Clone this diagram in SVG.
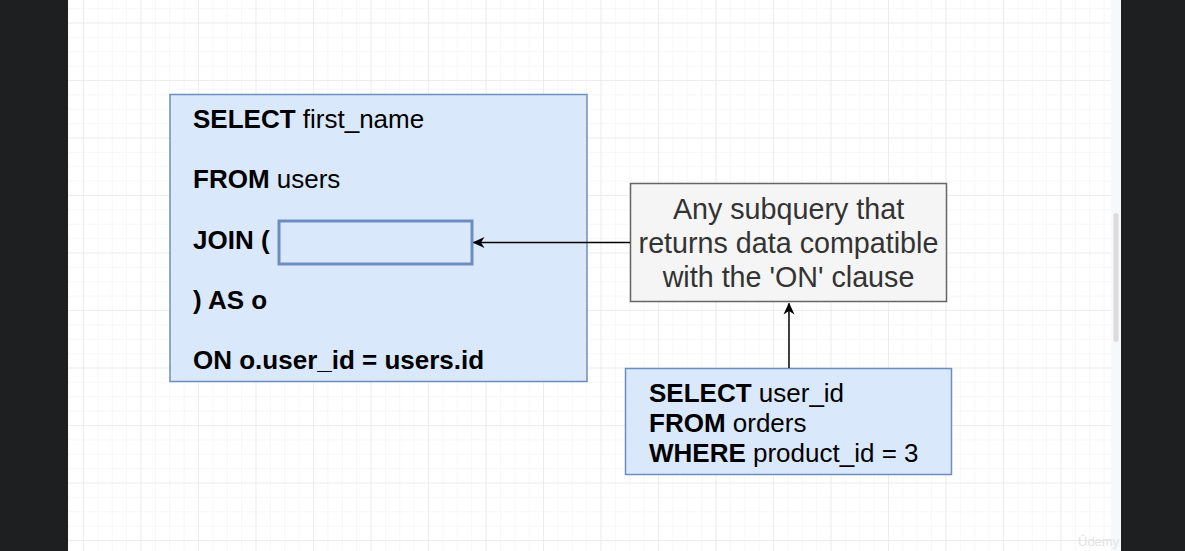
<svg xmlns="http://www.w3.org/2000/svg" width="1185" height="551" viewBox="0 0 1185 551">
<defs>
<pattern id="minor" x="111.75" y="8.125" width="14.375" height="14.375" patternUnits="userSpaceOnUse">
<path d="M0 0H14.375M0 0V14.375" fill="none" stroke="#f0f0f0" stroke-width="1"/>
</pattern>
<pattern id="major" x="140.5" y="22.5" width="57.5" height="57.5" patternUnits="userSpaceOnUse">
<path d="M0 0H57.5M0 0V57.5" fill="none" stroke="#e4e4e4" stroke-width="1"/>
</pattern>
<marker id="arr" viewBox="0 0 12 12" refX="11" refY="6" markerWidth="12" markerHeight="12" markerUnits="userSpaceOnUse" orient="auto">
<path d="M0 0.5L12 6L0 11.5L3.5 6Z" fill="#000"/>
</marker>
</defs>
<style>
text{font-family:"Liberation Sans",Arial,Helvetica,sans-serif;fill:#000}
.q{font-size:26px}
.n{font-size:28.7px;fill:#333}
.b{font-weight:bold}
.blue{fill:#dae8fc;stroke:#6c8ebf;stroke-width:1.5}
.gray{fill:#f5f5f5;stroke:#666666;stroke-width:1.5}
.conn{stroke:#000;stroke-width:1.5;fill:none}
</style>
<rect x="0" y="0" width="1185" height="551" fill="#1e1f21"/>
<rect x="68" y="0" width="1053" height="551" fill="#ffffff"/>
<rect x="68" y="0" width="1043" height="551" fill="url(#minor)"/>
<rect x="68" y="0" width="1043" height="551" fill="url(#major)"/>
<rect x="1111" y="0" width="10" height="551" fill="#f7f8fa"/>
<rect x="1113.5" y="213" width="5" height="129" rx="2.5" fill="#dcdcdc"/>

<g id="main-query">
<rect class="blue" x="170" y="94.5" width="417" height="287"/>
<text class="q" x="193" y="128"><tspan class="b">SELECT</tspan> first_name</text>
<text class="q" x="193" y="188"><tspan class="b">FROM</tspan> users</text>
<text class="q b" x="193" y="249">JOIN (</text>
<text class="q b" x="193" y="309">) AS o</text>
<text class="q b" x="193" y="369">ON o.user_id = users.id</text>
</g>
<g id="subquery-slot">
<rect x="279" y="221" width="193" height="43" fill="#dae8fc" stroke="#6c8ebf" stroke-width="3"/>
</g>
<g id="note">
<rect class="gray" x="630.5" y="183.5" width="316" height="118"/>
<text class="n" x="788.5" y="219" text-anchor="middle">Any subquery that</text>
<text class="n" x="788.5" y="253" text-anchor="middle">returns data compatible</text>
<text class="n" x="788.5" y="287" text-anchor="middle">with the 'ON' clause</text>
</g>
<g id="example-subquery">
<rect class="blue" x="625.5" y="368.5" width="326" height="106"/>
<text class="q" x="649" y="402"><tspan class="b">SELECT</tspan> user_id</text>
<text class="q" x="649" y="432"><tspan class="b">FROM</tspan> orders</text>
<text class="q" x="649" y="462"><tspan class="b">WHERE</tspan> product_id = 3</text>
</g>
<g id="connectors">
<path class="conn" d="M630 242.5H473.5" marker-end="url(#arr)"/>
<path class="conn" d="M789 368V303.5" marker-end="url(#arr)"/>
</g>
<text x="1078" y="546" font-size="13" style="fill:#e3e3e3">Ûdemy</text>
</svg>
